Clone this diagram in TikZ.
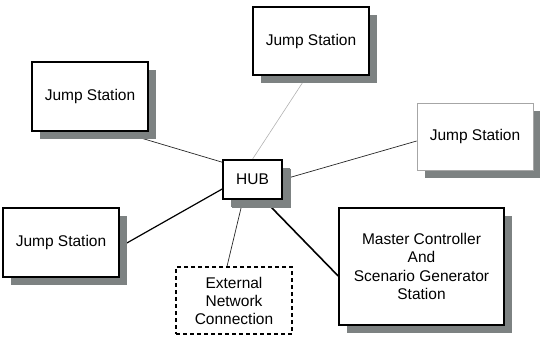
\documentclass[tikz,border=0pt]{standalone}
\usepackage{fontspec}
\setmainfont{Liberation Sans}
\usetikzlibrary{shadows,backgrounds}
\definecolor{shgray}{RGB}{125,130,130}
\begin{document}
\begin{tikzpicture}[x=1pt,y=-1pt,
  box/.style={draw=black,line width=1.6pt,fill=white,inner sep=0pt,align=center,
    font=\fontsize{15.5}{18.5}\selectfont,
    drop shadow={shadow xshift=8pt,shadow yshift=-8pt,fill=shgray,opacity=1}},
  plainbox/.style={draw=black,line width=1.3pt,fill=white,inner sep=0pt,align=center,
    font=\fontsize{15.5}{18}\selectfont,dashed,dash pattern=on 4pt off 3pt},
  thinlink/.style={line width=0.7pt,draw=black!85},
  palelink/.style={line width=0.6pt,draw=black!30},
  midlink/.style={line width=1.2pt,draw=black},
  heavylink/.style={line width=1.6pt,draw=black}]
\useasboundingbox (0,0) rectangle (540,339);
\node[box,minimum width=116pt,minimum height=69pt] (tl) at (90,96.5) {Jump Station};
\node[box,minimum width=116pt,minimum height=68pt] (top) at (311,41) {Jump Station};
\node[box,draw=black!35,line width=0.7pt,minimum width=116pt,minimum height=67pt] (right) at (475,136.5) {Jump Station};
\node[box,minimum width=116pt,minimum height=69pt] (left) at (61,242.5) {Jump Station};
\node[box,minimum width=59pt,minimum height=39pt,
  drop shadow={shadow xshift=9pt,shadow yshift=-9pt,fill=shgray,opacity=1}] (hub) at (252.5,179.5) {HUB};
\node[plainbox,minimum width=116pt,minimum height=67pt] (ext) at (234,300.5) {External\\Network\\Connection};
\node[box,minimum width=165pt,minimum height=117pt] (master) at (421.5,266.5) {Master Controller\\And\\Scenario Generator\\Station};
\begin{scope}[on background layer]
\draw[thinlink] ([yshift=-3pt]hub.north west) -- ([xshift=30pt]tl.south);
\draw[palelink] (hub.north) -- ([xshift=-4pt]top.south);
\draw[thinlink] (hub.east) -- ([yshift=-4.5pt]right.west);
\draw[midlink] ([yshift=-9.5pt]hub.west) -- ([yshift=-4.5pt]left.east);
\draw[thinlink] ([xshift=-9.5pt]hub.south) -- ([xshift=-7pt]ext.north);
\draw[heavylink] ([xshift=11.5pt]hub.south) -- ([yshift=-9.5pt]master.west);
\end{scope}
\end{tikzpicture}
\end{document}
